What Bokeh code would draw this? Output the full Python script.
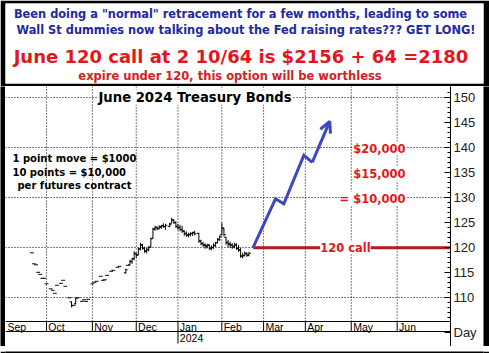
from bokeh.plotting import figure
from bokeh.models import Range1d, FixedTicker, Label, Arrow, OpenHead
from bokeh.layouts import column, row
from bokeh.embed import file_html
from bokeh.resources import INLINE
from bokeh.core.properties import value
import numpy as np

# ---------------- data ----------------
# trading-day index of each daily bar (Sep 2023 .. Feb 2024)
bar_day = [11, 12, 13, 14, 15, 16, 17, 18, 20, 21, 22, 23, 25, 26, 27, 29, 30, 31, 32, 33,
           35, 36, 37, 38, 40, 41, 42, 44, 45, 46, 47, 49, 50, 52, 53, 56, 57,
           58, 59, 60, 61, 62, 63, 64, 65, 66, 67, 68, 69, 70, 71, 72, 73, 74, 75,
           77, 78, 79, 80, 81, 82, 83, 84, 85, 86, 87, 88, 89,
           91, 92, 93, 94, 95, 96, 97, 98, 99, 100, 101, 102, 103, 104, 105, 106, 107,
           108, 109, 110, 111, 112, 113, 114, 115]
bar_open = [119.0, 116.8, 116.6, 115.1, 114.7, 113.9, 113.9, 112.8, 111.8, 111.5, 110.9, 112.5,
            112.9, 113.5, 112.3, 110.0, 109.2, 108.5, 108.8, 110.0, 109.3, 109.6, 109.3, 109.7,
            112.8, 113.1, 113.3, 114.3, 113.5, 113.6, 114.5, 115.3, 115.5, 116.1, 116.3, 115.0, 116.5,
            116.6, 117.2, 117.8, 118.8, 118.6, 119.7, 120.5, 119.9, 119.3, 119.6, 120.1, 121.9,
            123.7, 124.1, 123.8, 124.1, 124.4, 124.2,
            124.3, 124.9, 125.5, 125.0, 124.3, 124.1, 123.6, 123.4, 122.9, 122.5, 122.6, 122.8, 123.1,
            122.9, 121.4, 120.8, 120.6, 120.3, 120.5, 119.8, 120.0, 120.4, 121.0, 121.6, 122.6,
            123.8, 122.1, 121.1, 120.7, 120.5, 120.3, 120.6, 119.8, 119.6, 118.3, 118.4, 118.8, 118.6]
bar_high = [119.0, 116.8, 116.6, 115.1, 114.7, 113.9, 113.9, 112.8, 111.8, 111.5, 110.9, 112.5,
            112.9, 113.5, 112.3, 110.0, 109.3, 108.5, 110.0, 110.0, 109.3, 109.6, 109.3, 109.7,
            112.8, 113.1, 113.3, 114.3, 113.5, 113.6, 114.5, 115.3, 115.5, 116.1, 116.3, 115.8, 116.5,
            117.6, 118.0, 119.3, 119.0, 120.0, 121.0, 120.8, 120.2, 120.0, 120.4, 122.0, 124.0,
            124.4, 124.3, 124.5, 124.6, 124.9, 124.8,
            125.0, 126.0, 125.7, 125.3, 124.8, 124.6, 124.4, 123.5, 123.3, 123.0, 123.1, 123.2, 123.4,
            123.0, 121.6, 121.2, 120.9, 120.8, 120.7, 120.5, 120.9, 121.2, 122.0, 122.5, 125.0,
            124.0, 122.2, 121.6, 121.2, 120.9, 121.0, 120.9, 120.6, 120.0, 119.0, 119.3, 119.1, 119.2]
bar_low = [119.0, 116.8, 116.6, 115.1, 114.7, 113.9, 113.9, 112.8, 111.8, 111.5, 110.9, 112.5,
           112.9, 113.5, 112.3, 110.0, 108.1, 108.5, 108.7, 110.0, 109.3, 109.6, 109.3, 109.7,
           112.8, 113.1, 113.3, 114.3, 113.5, 113.6, 114.5, 115.3, 115.5, 116.1, 116.3, 114.8, 116.5,
           116.5, 116.8, 117.5, 118.0, 118.5, 119.5, 119.6, 119.0, 118.9, 119.3, 120.0, 121.8,
           123.4, 123.5, 123.7, 123.8, 124.0, 123.6,
           124.1, 124.9, 124.8, 124.0, 123.6, 123.3, 123.0, 122.4, 122.2, 122.1, 122.3, 122.4, 122.5,
           121.0, 120.5, 120.2, 119.8, 119.9, 119.6, 119.5, 119.8, 120.2, 120.9, 121.4, 122.5,
           122.3, 120.6, 120.1, 120.0, 119.8, 119.9, 119.6, 119.2, 118.0, 117.9, 118.3, 118.2, 118.3]
bar_close = [119.0, 116.8, 116.6, 115.1, 114.7, 113.9, 113.9, 112.8, 111.8, 111.5, 110.9, 112.5,
             112.9, 113.5, 112.3, 110.0, 108.4, 108.5, 109.9, 110.0, 109.3, 109.6, 109.3, 109.7,
             112.8, 113.1, 113.3, 114.3, 113.5, 113.6, 114.5, 115.3, 115.5, 116.1, 116.3, 115.6, 116.5,
             117.3, 117.8, 118.9, 118.5, 119.8, 120.6, 119.9, 119.4, 119.7, 120.1, 121.8, 123.8,
             124.0, 123.9, 124.2, 124.4, 124.3, 124.5,
             124.6, 125.6, 125.1, 124.2, 124.0, 123.7, 123.3, 122.8, 122.6, 122.7, 122.9, 123.0, 122.8,
             121.3, 120.9, 120.5, 120.4, 120.6, 119.9, 120.1, 120.5, 121.0, 121.7, 122.2, 124.0,
             122.6, 121.0, 120.8, 120.6, 120.2, 120.5, 119.9, 119.5, 118.4, 118.5, 118.9, 118.5, 118.9]

# hand-drawn projection (blue arrow)
proj_day = [117, 127.7, 131.7, 141.3, 145.3, 153.7]
proj_price = [120.1, 129.8, 128.8, 138.5, 137.1, 145.3]

call_strike = 120
call_start_day = 117

# month axis
month_names = ["Sep", "Oct", "Nov", "Dec", "Jan", "Feb", "Mar", "Apr", "May", "Jun"]
month_start = [-1.6, 18, 40, 61, 81, 102, 122, 142, 164, 186]
year_label = "2024"
year_start = 81

price_ticks = [110, 115, 120, 125, 130, 135, 140, 145, 150]
grid_ticks = [110, 120, 130, 140, 150]
minor_ticks = list(range(106, 152))
period_label = "Day"
period_label_pos = 103

dollar_labels = ["$20,000", "$15,000", "= $10,000"]
dollar_levels = [140, 135, 130]

notes = ["1 point move = $1000", "10 points = $10,000", "per futures contract"]

banner_lines = [
    'Been doing a "normal" retracement for a few months, leading to some',
    "Wall St dummies now talking about the Fed raising rates??? GET LONG!",
    "June 120 call at 2 10/64 is $2156 + 64 =2180",
    "expire under 120, this option will be worthless",
]

BLUE = "#1f2a9e"
RED = "#e3161c"
ARROW = "#3d46c4"
HEAVY = "DejaVu Sans"


def strip(w, h):
    s = figure(width=w, height=h, output_backend="svg", toolbar_location=None,
               min_border=0, x_axis_location=None, y_axis_location=None,
               background_fill_color="black", border_fill_color="black",
               outline_line_color=None, x_range=Range1d(0, 1), y_range=Range1d(0, 1))
    s.grid.visible = False
    s.scatter(x=[0.5], y=[0.5], size=0, alpha=0)
    return s


# ---------------- banner ----------------
banner = figure(width=489, height=86, x_range=Range1d(0, 478), y_range=Range1d(80, 0),
                min_border_left=5, min_border_right=6, min_border_top=3, min_border_bottom=3,
                border_fill_color="black", background_fill_color="white", outline_line_color=None,
                x_axis_location=None, y_axis_location=None, output_backend="svg",
                toolbar_location=None)
banner.grid.visible = False
banner.text(x=[235, 240.5], y=[10, 26], text=banner_lines[:2], text_color=BLUE,
            text_font=value(HEAVY), text_font_style="bold", text_font_size="11.4px",
            text_align="center", text_baseline="middle")
banner.text(x=[235.5], y=[53], text=[banner_lines[2]], text_color=RED,
            text_font=value(HEAVY), text_font_style="bold", text_font_size="18px",
            text_align="center", text_baseline="middle")
banner.text(x=[224.5], y=[72], text=[banner_lines[3]], text_color="#d42222",
            text_font=value(HEAVY), text_font_style="bold", text_font_size="11.5px",
            text_align="center", text_baseline="middle")

# ---------------- chart ----------------
X0, X1 = -1.63, 211.54
Y0, Y1 = 100.26, 152.26
PLOT_BOTTOM = 105.26
ROW_BOTTOM = 103.26

p = figure(width=478, height=260, x_range=Range1d(X0, X1), y_range=Range1d(Y0, Y1),
           min_border_left=0, min_border_right=33, min_border_top=0, min_border_bottom=0,
           x_axis_location=None, y_axis_location="right", output_backend="svg",
           toolbar_location=None, background_fill_color="white", border_fill_color="white",
           outline_line_color=None)
p.xgrid.visible = False
p.ygrid.ticker = FixedTicker(ticks=grid_ticks)
p.ygrid.grid_line_color = "black"
p.ygrid.grid_line_dash = "1 2"
p.ygrid.grid_line_width = 1

ax = p.yaxis[0]
ax.ticker = FixedTicker(ticks=price_ticks + [period_label_pos], minor_ticks=minor_ticks)
ax.major_label_overrides = {period_label_pos: period_label}
ax.major_tick_in = 6
ax.major_tick_out = 0
ax.minor_tick_in = 3
ax.minor_tick_out = 0
ax.axis_line_color = "black"
ax.major_tick_line_color = "black"
ax.minor_tick_line_color = "black"
ax.major_label_text_font = "Liberation Sans"
ax.major_label_text_font_size = "13px"
ax.major_label_text_color = "#222222"
ax.major_label_standoff = 3

ms = np.array(month_start[1:], dtype=float)
# vertical dotted month grid
p.segment(x0=ms, y0=PLOT_BOTTOM, x1=ms, y1=Y1, line_color="black", line_dash="1 2", line_width=1)
# axis rows
p.hspan(y=[PLOT_BOTTOM, ROW_BOTTOM], line_color="black", line_width=1)
p.segment(x0=ms, y0=ROW_BOTTOM, x1=ms, y1=PLOT_BOTTOM, line_color="black", line_width=1)
p.segment(x0=[year_start], y0=[ROW_BOTTOM], x1=[year_start], y1=[ROW_BOTTOM - 2.4],
          line_color="black", line_width=1)
p.text(x=np.array(month_start) + 0.9, y=(PLOT_BOTTOM + ROW_BOTTOM) / 2, text=month_names,
       text_font=value("Liberation Sans"), text_font_size="10.5px", text_color="black",
       text_baseline="middle", text_align="left")
p.text(x=[year_start + 0.9], y=[ROW_BOTTOM - 1.35], text=[year_label],
       text_font=value("Liberation Sans"), text_font_size="10.5px", text_color="black",
       text_baseline="middle", text_align="left")

# OHLC bars
d = np.array(bar_day, dtype=float)
p.segment(x0=d, y0=bar_low, x1=d, y1=bar_high, line_color="black", line_width=1)
p.segment(x0=d - 0.9, y0=bar_open, x1=d, y1=bar_open, line_color="black", line_width=1)
p.segment(x0=d, y0=bar_close, x1=d + 0.9, y1=bar_close, line_color="black", line_width=1)

# call strike line
p.segment(x0=[call_start_day], y0=[call_strike], x1=[X1], y1=[call_strike],
          line_color="#b01c1c", line_width=3)

# projection arrow
p.line(x=proj_day[:-1], y=proj_price[:-1], line_color=ARROW, line_width=3, line_join="miter")
p.add_layout(Arrow(end=OpenHead(size=11, line_color=ARROW, line_width=3),
                   x_start=proj_day[-2], y_start=proj_price[-2],
                   x_end=proj_day[-1], y_end=proj_price[-1],
                   line_color=ARROW, line_width=3))

# labels
p.add_layout(Label(x=42.9, y=150.16, text="June 2024 Treasury Bonds", text_font=HEAVY,
                   text_font_style="bold", text_font_size="13.2px", text_color="black",
                   text_baseline="middle", text_align="left", background_fill_color="white"))
p.add_layout(Label(x=161.2, y=call_strike + 0.06, text="120 call", text_font=HEAVY,
                   text_font_style="bold", text_font_size="11.5px", text_color=RED,
                   text_baseline="middle", text_align="center", background_fill_color="white"))
for t, lv in zip(dollar_labels, dollar_levels):
    p.add_layout(Label(x=190.0, y=lv - 0.14, text=t, text_font=HEAVY, text_font_style="bold",
                       text_font_size="11.5px", text_color=RED, text_baseline="middle",
                       text_align="right", background_fill_color="white"))
for t, yy, xx in zip(notes, [137.86, 135.06, 132.46], [1.7, 1.7, 4.1]):
    p.add_layout(Label(x=xx, y=yy, text=t, text_font=HEAVY, text_font_style="bold",
                       text_font_size="10px", text_color="black", text_baseline="middle",
                       text_align="left"))

layout = column(banner, row(strip(5, 260), p, strip(6, 260)), strip(489, 7))
open("out.html", "w").write(file_html(layout, INLINE))
